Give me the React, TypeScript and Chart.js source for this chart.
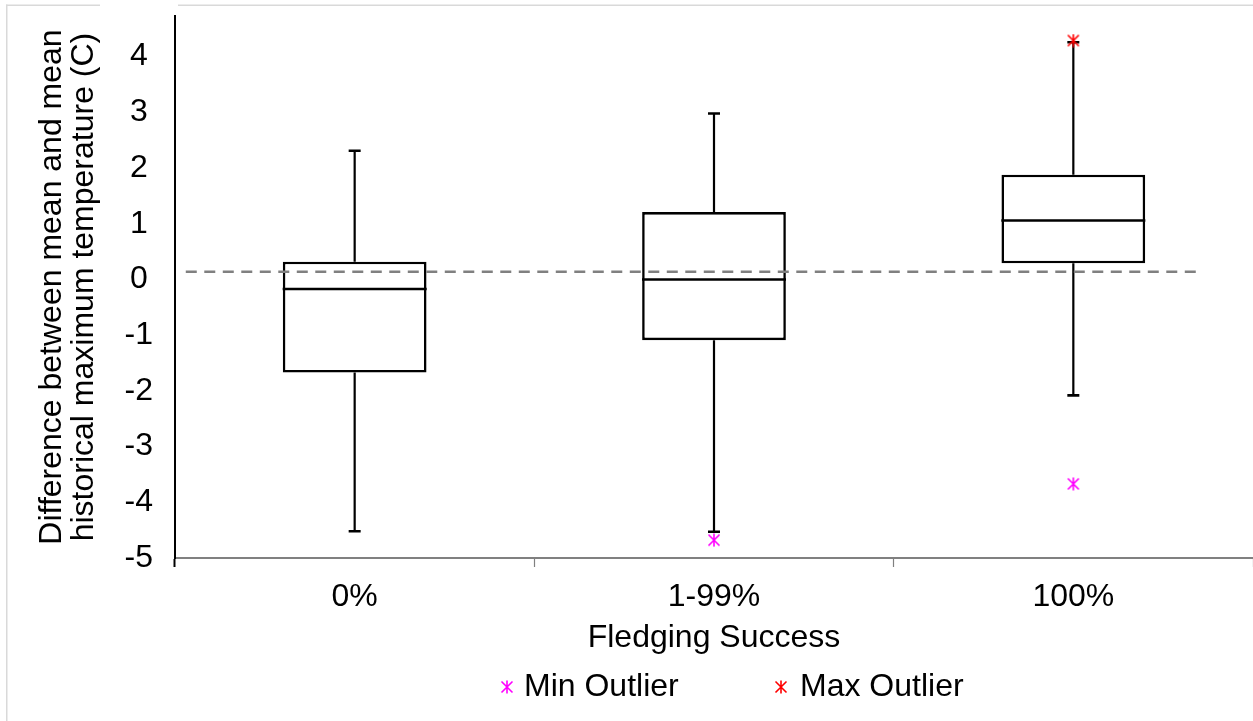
import React, { useEffect, useRef } from 'react';
import { Chart, registerables } from 'chart.js';

Chart.register(...registerables);

// ---------- data ----------
const categories = ['0%', '1-99%', '100%'];
const minValues = [-4.52, -4.53, -2.08];
const q1Values = [-1.67, -1.09, 0.29];
const medianValues = [-0.17, 0.0, 1.06];
const q3Values = [0.32, 1.21, 1.88];
const maxValues = [2.31, 2.98, 4.26];
const minOutliers: (number | null)[] = [null, -4.68, -3.67];
const maxOutliers: (number | null)[] = [null, null, 4.29];
const referenceValue = 0.14;
const referenceSpan = [-0.47, 2.36];
const yTickValues = [-5, -4, -3, -2, -1, 0, 1, 2, 3, 4];
const yMin = -5;
const yMax = 4.73;
const xTitle = 'Fledging Success';
const yTitle = ['Difference between mean and mean', 'historical maximum temperature (C)'];
const legendLabels = ['Min Outlier', 'Max Outlier'];

const FONT = '"Liberation Sans", Arial, Helvetica, sans-serif';
const FS = 32;

function makeAsterisk(color: string, size = 14): HTMLCanvasElement {
  const c = document.createElement('canvas');
  c.width = size;
  c.height = size;
  const g = c.getContext('2d')!;
  g.strokeStyle = color;
  g.lineWidth = 1.6;
  const m = 1.5;
  g.beginPath();
  g.moveTo(m, m);
  g.lineTo(size - m, size - m);
  g.moveTo(size - m, m);
  g.lineTo(m, size - m);
  g.moveTo(size / 2, 0.5);
  g.lineTo(size / 2, size - 0.5);
  g.stroke();
  return c;
}

export default function App() {
  const ref = useRef<HTMLCanvasElement | null>(null);

  useEffect(() => {
    if (!ref.current) return;
    const minStar = makeAsterisk('#FF00FF');
    const maxStar = makeAsterisk('#FF0000');

    const whiskerData: any[] = [];
    const capData: any[] = [];
    categories.forEach((c, i) => {
      whiskerData.push({ x: c, y: q3Values[i] }, { x: c, y: maxValues[i] }, { x: c, y: null });
      whiskerData.push({ x: c, y: q1Values[i] }, { x: c, y: minValues[i] }, { x: c, y: null });
      capData.push({ x: c, y: maxValues[i] }, { x: c, y: minValues[i] });
    });
    const minOutData = categories
      .map((c, i) => ({ x: c, y: minOutliers[i] }))
      .filter((p) => p.y !== null);
    const maxOutData = categories
      .map((c, i) => ({ x: c, y: maxOutliers[i] }))
      .filter((p) => p.y !== null);

    const frame = {
      id: 'frame',
      beforeDraw(chart: any) {
        const ctx = chart.ctx;
        ctx.save();
        ctx.fillStyle = '#ffffff';
        ctx.fillRect(0, 0, chart.width, chart.height);
        ctx.fillStyle = '#d9d9d9';
        ctx.fillRect(6, 4.5, 1.5, chart.height);
        ctx.fillRect(6, 4.5, 94, 1.5);
        ctx.fillRect(178, 4.5, chart.width - 178, 1.5);
        ctx.restore();
      },
    };

    const outlierLegend = {
      id: 'outlierLegend',
      afterDraw(chart: any) {
        const ctx = chart.ctx;
        const dsets = chart.data.datasets.filter((d: any) => legendLabels.includes(d.label));
        const pos = [
          { marker: 507, text: 524 },
          { marker: 781, text: 800 },
        ];
        const y = 687;
        ctx.save();
        ctx.font = `${FS}px ${FONT}`;
        ctx.fillStyle = '#000';
        ctx.textBaseline = 'middle';
        ctx.textAlign = 'left';
        dsets.forEach((d: any, i: number) => {
          const img = d.pointStyle as HTMLCanvasElement;
          const p = pos[i];
          ctx.drawImage(img, p.marker - img.width / 2, y - img.height / 2);
          ctx.fillText(d.label, p.text, y);
        });
        ctx.restore();
      },
    };

    const chart = new Chart(ref.current, {
      type: 'bar',
      data: {
        labels: categories,
        datasets: [
          {
            type: 'line',
            label: legendLabels[0],
            data: minOutData,
            showLine: false,
            pointStyle: minStar,
            pointRadius: 7,
          } as any,
          {
            type: 'line',
            label: legendLabels[1],
            data: maxOutData,
            showLine: false,
            pointStyle: maxStar,
            pointRadius: 7,
          } as any,
          {
            type: 'line',
            label: 'Reference',
            xAxisID: 'x2',
            data: referenceSpan.map((x) => ({ x, y: referenceValue })),
            borderColor: '#808080',
            borderWidth: 2.5,
            borderDash: [11, 7.5],
            pointRadius: 0,
          } as any,
          {
            type: 'line',
            label: 'Median',
            data: categories.map((c, i) => ({ x: c, y: medianValues[i] })),
            showLine: false,
            pointStyle: 'line',
            pointRadius: 72,
            pointBorderWidth: 2.6,
            pointBorderColor: '#000',
            pointBackgroundColor: '#000',
          } as any,
          {
            type: 'line',
            label: 'Caps',
            data: capData,
            showLine: false,
            pointStyle: 'line',
            pointRadius: 6,
            pointBorderWidth: 2.6,
            pointBorderColor: '#000',
          } as any,
          {
            type: 'line',
            label: 'Whiskers',
            data: whiskerData,
            borderColor: '#000',
            borderWidth: 2.2,
            pointRadius: 0,
            spanGaps: false,
          } as any,
          {
            type: 'bar',
            label: 'Box',
            data: categories.map((_, i) => [q1Values[i], q3Values[i]]),
            backgroundColor: '#ffffff',
            borderColor: '#000',
            borderWidth: 2.6,
            borderSkipped: false,
            grouped: false,
            barPercentage: 0.4,
            categoryPercentage: 1,
          } as any,
        ],
      },
      options: {
        responsive: false,
        animation: false,
        devicePixelRatio: 1,
        events: [],
        layout: { autoPadding: false, padding: { top: 16, left: 0, right: 0, bottom: 64 } },
        plugins: {
          legend: { display: false },
          tooltip: { enabled: false },
        },
        scales: {
          x: {
            type: 'category',
            offset: true,
            grid: {
              display: true,
              offset: true,
              drawOnChartArea: false,
              drawTicks: true,
              tickLength: 9,
              tickColor: (ctx: any) => (ctx.index === 0 ? '#000' : '#808080'),
              tickWidth: (ctx: any) => (ctx.index === 0 ? 2 : 1.2),
            },
            border: { display: true, color: '#808080', width: 2 },
            ticks: {
              color: '#000',
              padding: 11,
              font: { family: FONT, size: FS },
              maxRotation: 0,
            },
            title: {
              display: true,
              text: xTitle,
              color: '#000',
              font: { family: FONT, size: FS },
              padding: 0,
            },
            afterFit: (scale: any) => {
              scale.height = 99;
              scale.paddingLeft = 0;
              scale.paddingRight = 0;
            },
          },
          x2: {
            type: 'linear',
            display: false,
            offset: false,
            min: -0.5,
            max: 2.5,
          },
          y: {
            type: 'linear',
            min: yMin,
            max: yMax,
            grid: { display: false, drawTicks: false },
            border: { display: true, color: '#000', width: 2 },
            afterBuildTicks: (scale: any) => {
              scale.ticks = yTickValues.map((v) => ({ value: v }));
            },
            ticks: {
              color: '#000',
              padding: 22,
              crossAlign: 'center',
              font: { family: FONT, size: FS },
              callback: (v: any) => String(v),
            },
            title: {
              display: true,
              text: yTitle,
              color: '#000',
              font: { family: FONT, size: FS, lineHeight: 1.0 },
              padding: { top: 36, bottom: 0 },
            },
            afterFit: (scale: any) => {
              scale.width = 175;
              scale.paddingTop = 0;
              scale.paddingBottom = 0;
            },
          },
        },
      } as any,
      plugins: [frame, outlierLegend],
    });

    return () => chart.destroy();
  }, []);

  return (
    <div style={{ position: 'fixed', left: 0, top: 0, width: 1253, height: 721, background: '#fff' }}>
      <canvas ref={ref} width={1253} height={721} style={{ display: 'block' }} />
    </div>
  );
}
